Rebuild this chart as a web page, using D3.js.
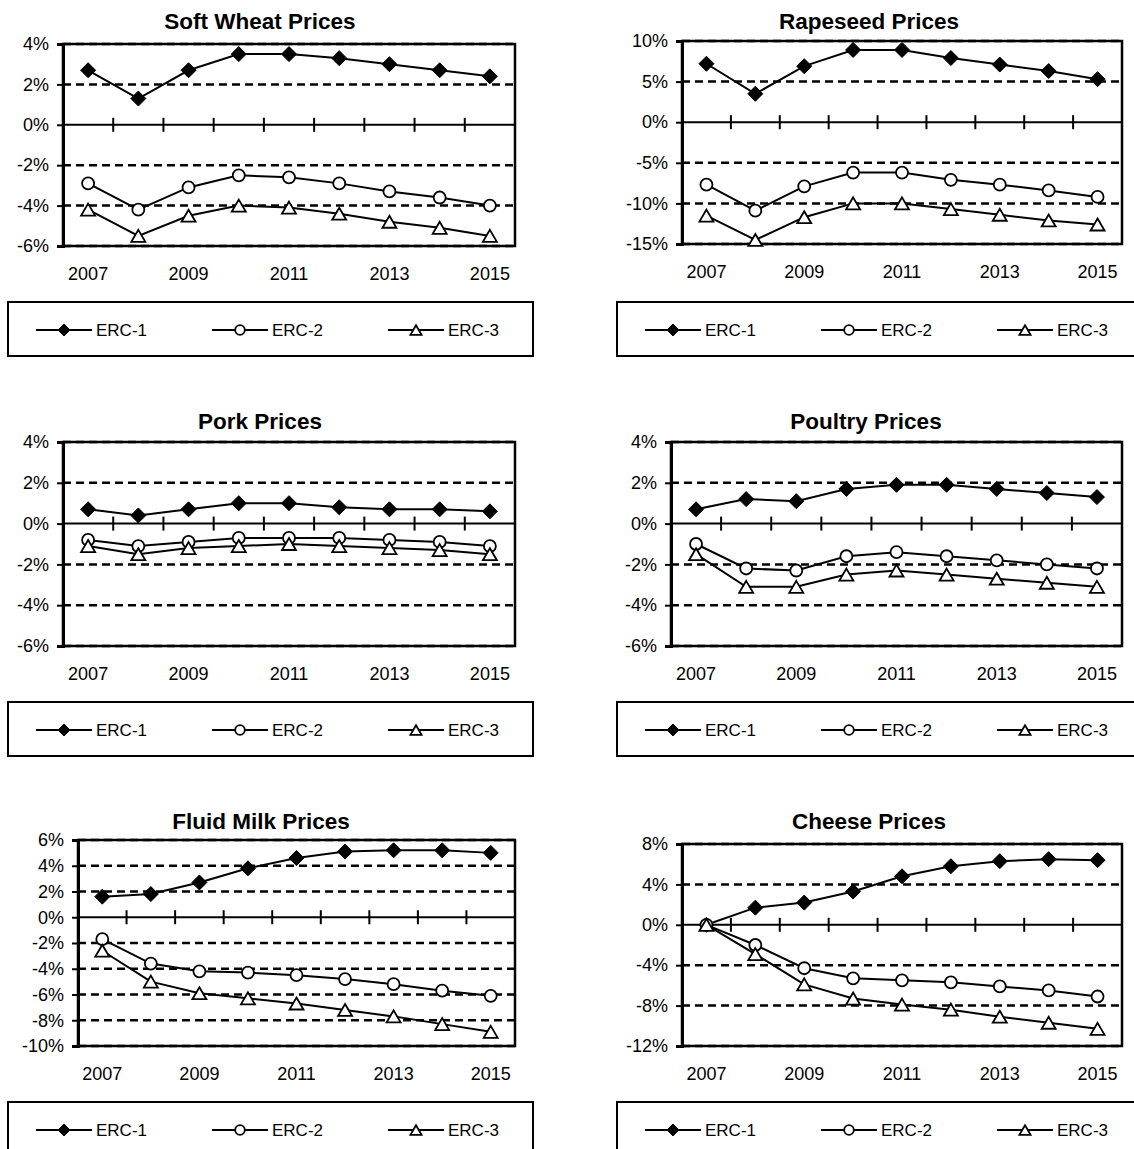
<!DOCTYPE html>
<html>
<head>
<meta charset="utf-8">
<script src="https://cdn.jsdelivr.net/npm/d3@7"></script>
<style>
body { margin: 0; background: #fff; }
svg { display: block; font-family: "Liberation Sans", Arial, sans-serif; }
</style>
</head>
<body>
<div id="chart"></div>
<script>
// categories
const years = [2007, 2008, 2009, 2010, 2011, 2012, 2013, 2014, 2015];
const yearLabels = [2007, 2009, 2011, 2013, 2015];
const seriesNames = ["ERC-1", "ERC-2", "ERC-3"];

// values in percent
const wheatERC1 = [2.7, 1.3, 2.7, 3.5, 3.5, 3.3, 3.0, 2.7, 2.4];
const wheatERC2 = [-2.9, -4.2, -3.1, -2.5, -2.6, -2.9, -3.3, -3.6, -4.0];
const wheatERC3 = [-4.2, -5.5, -4.5, -4.0, -4.1, -4.4, -4.8, -5.1, -5.5];
const wheatTicks = [-6, -4, -2, 0, 2, 4];

const rapeERC1 = [7.2, 3.5, 6.9, 8.9, 8.9, 7.9, 7.1, 6.3, 5.3];
const rapeERC2 = [-7.7, -10.9, -7.9, -6.2, -6.2, -7.1, -7.7, -8.4, -9.2];
const rapeERC3 = [-11.5, -14.5, -11.7, -10.0, -10.0, -10.7, -11.4, -12.1, -12.6];
const rapeTicks = [-15, -10, -5, 0, 5, 10];

const porkERC1 = [0.7, 0.4, 0.7, 1.0, 1.0, 0.8, 0.7, 0.7, 0.6];
const porkERC2 = [-0.8, -1.1, -0.9, -0.7, -0.7, -0.7, -0.8, -0.9, -1.1];
const porkERC3 = [-1.1, -1.5, -1.2, -1.1, -1.0, -1.1, -1.2, -1.3, -1.5];
const porkTicks = [-6, -4, -2, 0, 2, 4];

const poultryERC1 = [0.7, 1.2, 1.1, 1.7, 1.9, 1.9, 1.7, 1.5, 1.3];
const poultryERC2 = [-1.0, -2.2, -2.3, -1.6, -1.4, -1.6, -1.8, -2.0, -2.2];
const poultryERC3 = [-1.5, -3.1, -3.1, -2.5, -2.3, -2.5, -2.7, -2.9, -3.1];
const poultryTicks = [-6, -4, -2, 0, 2, 4];

const milkERC1 = [1.6, 1.8, 2.7, 3.8, 4.6, 5.1, 5.2, 5.2, 5.0];
const milkERC2 = [-1.7, -3.6, -4.2, -4.3, -4.5, -4.8, -5.2, -5.7, -6.1];
const milkERC3 = [-2.6, -5.0, -5.9, -6.3, -6.7, -7.2, -7.7, -8.3, -8.9];
const milkTicks = [-10, -8, -6, -4, -2, 0, 2, 4, 6];

const cheeseERC1 = [0.0, 1.7, 2.2, 3.3, 4.8, 5.8, 6.3, 6.5, 6.4];
const cheeseERC2 = [0.0, -2.0, -4.3, -5.3, -5.5, -5.7, -6.1, -6.5, -7.1];
const cheeseERC3 = [0.0, -2.9, -5.9, -7.3, -7.9, -8.4, -9.1, -9.7, -10.3];
const cheeseTicks = [-12, -8, -4, 0, 4, 8];

const panels = [
  { title: "Soft Wheat Prices", series: [wheatERC1, wheatERC2, wheatERC3], ticks: wheatTicks },
  { title: "Rapeseed Prices", series: [rapeERC1, rapeERC2, rapeERC3], ticks: rapeTicks },
  { title: "Pork Prices", series: [porkERC1, porkERC2, porkERC3], ticks: porkTicks },
  { title: "Poultry Prices", series: [poultryERC1, poultryERC2, poultryERC3], ticks: poultryTicks },
  { title: "Fluid Milk Prices", series: [milkERC1, milkERC2, milkERC3], ticks: milkTicks },
  { title: "Cheese Prices", series: [cheeseERC1, cheeseERC2, cheeseERC3], ticks: cheeseTicks }
];

// where each panel sits on the page
const layout = [
  { x0: 63, x1: 515, y0: 44, y1: 246, tx: 260, ty: 21, lx: 8, ly: 302 },
  { x0: 682, x1: 1122, y0: 41, y1: 244, tx: 869, ty: 21, lx: 617, ly: 302 },
  { x0: 63, x1: 515, y0: 442, y1: 646, tx: 260, ty: 421, lx: 8, ly: 702 },
  { x0: 671, x1: 1122, y0: 442, y1: 646, tx: 866, ty: 421, lx: 617, ly: 702 },
  { x0: 78, x1: 515, y0: 840, y1: 1046, tx: 261, ty: 821, lx: 8, ly: 1102 },
  { x0: 682, x1: 1122, y0: 844, y1: 1046, tx: 869, ty: 821, lx: 617, ly: 1102 }
];

var width = 1134, height = 1149;

var svg = d3.select("#chart")
  .append("svg")
  .attr("width", width)
  .attr("height", height);

// marker shapes
function marker(sel, k, s) {
  s = s || 1;
  if (k === 0) {
    sel.append("path")
      .attr("d", "M0," + (-7.5 * s) + "L" + (7.5 * s) + ",0L0," + (7.5 * s) + "L" + (-7.5 * s) + ",0Z")
      .attr("fill", "black").attr("stroke", "black").attr("stroke-width", 1);
  } else if (k === 1) {
    sel.append("circle").attr("r", 6 * s)
      .attr("fill", "white").attr("stroke", "black").attr("stroke-width", 1.8);
  } else {
    sel.append("path")
      .attr("d", "M0," + (-6 * s) + "L" + (7 * s) + "," + (6 * s) + "L" + (-7 * s) + "," + (6 * s) + "Z")
      .attr("fill", "white").attr("stroke", "black").attr("stroke-width", 1.8)
      .attr("stroke-linejoin", "miter");
  }
}

panels.forEach(function (p, i) {
  var L = layout[i];
  var g = svg.append("g");

  var x = d3.scaleBand().domain(years).range([L.x0, L.x1]);
  var y = d3.scaleLinear().domain(d3.extent(p.ticks)).range([L.y1, L.y0]);
  var cx = function (d, j) { return x(years[j]) + x.bandwidth() / 2; };

  // title
  g.append("text")
    .attr("x", L.tx).attr("y", L.ty)
    .attr("dominant-baseline", "central")
    .attr("text-anchor", "middle")
    .style("font-size", "22.5px").style("font-weight", "bold")
    .text(p.title);

  // dashed gridlines
  g.selectAll(".grid")
    .data(p.ticks.filter(function (t) { return t !== 0; }))
    .enter().append("line")
    .attr("x1", L.x0).attr("x2", L.x1)
    .attr("y1", function (d) { return y(d); })
    .attr("y2", function (d) { return y(d); })
    .attr("stroke", "black").attr("stroke-width", 2.5)
    .attr("stroke-dasharray", "8,5");

  // plot border
  g.append("rect")
    .attr("x", L.x0).attr("y", L.y0)
    .attr("width", L.x1 - L.x0).attr("height", L.y1 - L.y0)
    .attr("fill", "none").attr("stroke", "black").attr("stroke-width", 2.5);

  // y axis
  var yAxis = g.append("g")
    .attr("transform", "translate(" + L.x0 + ",0)")
    .call(d3.axisLeft(y).tickValues(p.ticks).tickFormat(function (d) { return d + "%"; }).tickSize(6).tickPadding(8));
  yAxis.select(".domain").attr("stroke-width", 3);
  yAxis.selectAll(".tick line").attr("stroke-width", 2);
  yAxis.selectAll("text").style("font-size", "18px").attr("fill", "black");

  // zero line with category tick marks
  var z = y(0);
  g.append("line")
    .attr("x1", L.x0).attr("x2", L.x1).attr("y1", z).attr("y2", z)
    .attr("stroke", "black").attr("stroke-width", 2);
  g.selectAll(".ztick")
    .data(years.slice(1))
    .enter().append("line")
    .attr("x1", function (d) { return x(d); })
    .attr("x2", function (d) { return x(d); })
    .attr("y1", z - 7).attr("y2", z + 7)
    .attr("stroke", "black").attr("stroke-width", 2);

  // year labels below the plot
  var xAxis = g.append("g")
    .attr("transform", "translate(0," + L.y1 + ")")
    .call(d3.axisBottom(x).tickValues(yearLabels).tickSize(0).tickPadding(21));
  xAxis.select(".domain").remove();
  xAxis.selectAll("text").style("font-size", "18px").attr("fill", "black");

  // series
  var line = d3.line()
    .x(cx)
    .y(function (d) { return y(d); });

  p.series.forEach(function (vals, k) {
    g.append("path")
      .datum(vals)
      .attr("d", line)
      .attr("fill", "none").attr("stroke", "black").attr("stroke-width", 2);
    g.selectAll(".m" + k)
      .data(vals)
      .enter().append("g")
      .attr("transform", function (d, j) { return "translate(" + cx(d, j) + "," + y(d) + ")"; })
      .each(function () { marker(d3.select(this), k); });
  });

  // legend
  var lg = g.append("g").attr("transform", "translate(" + L.lx + "," + L.ly + ")");
  lg.append("rect")
    .attr("width", 525).attr("height", 54)
    .attr("fill", "none").attr("stroke", "black").attr("stroke-width", 2);
  seriesNames.forEach(function (name, k) {
    var item = lg.append("g").attr("transform", "translate(" + (56 + 176 * k) + ",28)");
    item.append("line").attr("x1", -28).attr("x2", 28)
      .attr("stroke", "black").attr("stroke-width", 2);
    marker(item, k, 0.8);
    item.append("text")
      .attr("x", 32).attr("dominant-baseline", "central")
      .style("font-size", "17px")
      .text(name);
  });
});
</script>
</body>
</html>
